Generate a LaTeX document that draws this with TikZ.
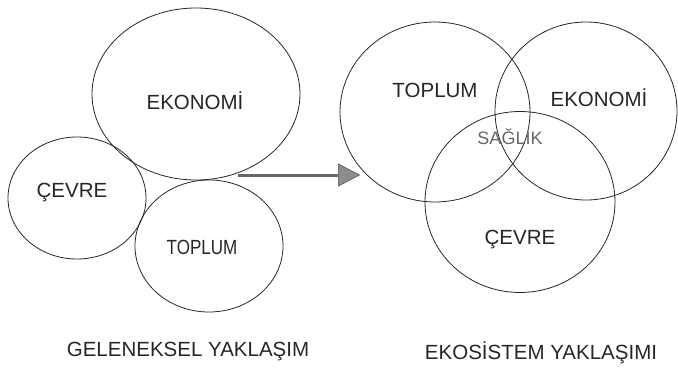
\documentclass[tikz,border=0pt]{standalone}
\usepackage{fontspec}
\setmainfont{Liberation Sans}
\usetikzlibrary{shapes.geometric,arrows.meta}
\begin{document}
\begin{tikzpicture}[x=1pt,y=-1pt,
  blob/.style={ellipse,draw=black!85,line width=0.8pt,inner sep=0pt},
  lbl/.style={font=\fontsize{20.5}{22}\selectfont,text=black!85,inner sep=0pt},
  captxt/.style={font=\fontsize{20.5}{22}\selectfont,text=black!85,inner sep=0pt}]
\useasboundingbox (0,0) rectangle (678,368);
% left group
\node[blob,minimum width=208pt,minimum height=172pt] (eko1) at (196,94) {};
\node[blob,minimum width=138pt,minimum height=122pt] (cev1) at (77,198) {};
\node[blob,minimum width=148pt,minimum height=132pt] (top1) at (209,246) {};
\node[lbl] (teko1) at (195,101) {EKONOMİ};
\node[lbl] (tcev1) at (72,193) {ÇEVRE};
\node[lbl,xscale=0.83] (ttop1) at (202,247) {TOPLUM};
\node[captxt] (gel) at (188,352) {GELENEKSEL YAKLAŞIM};
% arrow
\coordinate (as) at (238,175);
\coordinate (ae) at (360,175);
\draw[line width=3pt,black!60,-{Triangle[length=22pt,width=23pt,fill=black!45,color=black!70,line width=0.5pt]}] (as) -- (ae);
% right group
\node[blob,minimum width=190pt,minimum height=180pt] (top2) at (435,112) {};
\node[blob,minimum width=182pt,minimum height=178pt] (eko2) at (586,111) {};
\node[blob,minimum width=190pt,minimum height=181pt] (cev2) at (520,202) {};
\node[lbl] (ttop2) at (435,90) {TOPLUM};
\node[lbl] (teko2) at (599,98) {EKONOMİ};
\node[lbl,font=\fontsize{18}{20}\selectfont,text=black!60] (tsag) at (510,137) {SAĞLIK};
\node[lbl] (tcev2) at (520,240) {ÇEVRE};
\node[captxt] (eks) at (541,353) {EKOSİSTEM YAKLAŞIMI};
\end{tikzpicture}
\end{document}
